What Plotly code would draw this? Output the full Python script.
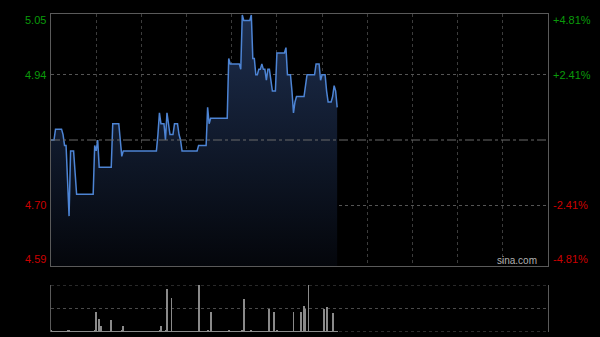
import plotly.graph_objects as go

prev_close = 4.82

minutes = list(range(191))

prices = [
    4.82, 4.82, 4.82, 4.84, 4.84, 4.84, 4.84, 4.84, 4.83, 4.81,
    4.81, 4.75, 4.68, 4.80, 4.80, 4.80, 4.76, 4.72, 4.72, 4.72,
    4.72, 4.72, 4.72, 4.72, 4.72, 4.72, 4.72, 4.72, 4.72, 4.81,
    4.80, 4.82, 4.77, 4.77, 4.77, 4.77, 4.77, 4.77, 4.77, 4.77,
    4.77, 4.85, 4.85, 4.85, 4.85, 4.85, 4.82, 4.79, 4.80, 4.80,
    4.80, 4.80, 4.80, 4.80, 4.80, 4.80, 4.80, 4.80, 4.80, 4.80,
    4.80, 4.80, 4.80, 4.80, 4.80, 4.80, 4.80, 4.80, 4.80, 4.80,
    4.80, 4.83, 4.87, 4.85, 4.85, 4.85, 4.82, 4.87, 4.85, 4.83,
    4.83, 4.83, 4.85, 4.85, 4.85, 4.83, 4.82, 4.80, 4.80, 4.80,
    4.80, 4.80, 4.80, 4.80, 4.80, 4.80, 4.80, 4.80, 4.81, 4.81,
    4.81, 4.81, 4.81, 4.81, 4.88, 4.85, 4.86, 4.86, 4.86, 4.86,
    4.86, 4.86, 4.86, 4.86, 4.86, 4.86, 4.86, 4.86, 4.97, 4.96,
    4.96, 4.96, 4.96, 4.96, 4.96, 4.96, 4.95, 5.05, 5.04, 5.04,
    5.04, 5.04, 5.04, 5.05, 4.97, 4.97, 4.94, 4.94, 4.95, 4.95,
    4.96, 4.95, 4.95, 4.93, 4.95, 4.95, 4.93, 4.91, 4.91, 4.91,
    4.98, 4.98, 4.98, 4.98, 4.98, 4.98, 4.99, 4.94, 4.94, 4.94,
    4.91, 4.87, 4.89, 4.90, 4.90, 4.90, 4.90, 4.90, 4.90, 4.92,
    4.94, 4.94, 4.94, 4.94, 4.94, 4.94, 4.96, 4.96, 4.96, 4.93,
    4.94, 4.94, 4.94, 4.91, 4.89, 4.89, 4.89, 4.90, 4.92, 4.91,
    4.88,
]

volumes = [
    3, 1, 2, 1, 1, 2, 1, 1, 2, 1,
    2, 3, 4, 2, 1, 1, 2, 1, 1, 1,
    1, 1, 2, 1, 1, 1, 1, 1, 2, 3,
    43, 2, 27, 12, 2, 1, 1, 2, 1, 1,
    25, 1, 2, 1, 1, 2, 1, 3, 13, 1,
    1, 1, 1, 2, 1, 1, 1, 1, 1, 1,
    1, 2, 1, 1, 1, 1, 1, 2, 1, 1,
    1, 2, 3, 13, 2, 2, 3, 91, 2, 2,
    73, 2, 1, 2, 1, 2, 1, 1, 1, 1,
    1, 1, 1, 1, 1, 1, 1, 2, 100, 2,
    1, 1, 1, 2, 3, 2, 43, 1, 1, 1,
    1, 1, 1, 1, 1, 1, 1, 2, 4, 2,
    1, 1, 1, 1, 2, 1, 2, 3, 70, 2,
    2, 2, 2, 3, 2, 1, 2, 1, 1, 1,
    2, 1, 1, 2, 2, 49, 1, 2, 43, 1,
    3, 2, 1, 1, 1, 2, 2, 1, 2, 1,
    2, 42, 2, 1, 2, 1, 42, 2, 56, 49,
    2, 100, 2, 1, 2, 1, 2, 1, 1, 2,
    1, 49, 2, 53, 1, 1, 2, 40, 2, 1,
    2,
]

left_tick_vals = [5.05, 4.94, 4.70, 4.59]
left_tick_text = ["5.05", "4.94", "4.70", "4.59"]
right_tick_text = ["+4.81%", "+2.41%", "-2.41%", "-4.81%"]
tick_colors = ["#0a9a0a", "#0a9a0a", "#cc0000", "#cc0000"]
grid_minutes = list(range(0, 331, 30))
vol_grid = [0, 50, 100]

y_lo = prev_close * (1 - 0.0481)
y_hi = prev_close * (1 + 0.0481)

fig = go.Figure()

fig.add_trace(go.Scatter(
    x=minutes, y=prices, mode="lines",
    line=dict(color="#4d84d4", width=1.5),
    fill="tozeroy",
    fillgradient=dict(type="vertical", start=y_lo, stop=y_hi,
                      colorscale=[[0, "#04060b"], [1, "#1d2e4e"]]),
    xaxis="x", yaxis="y", hoverinfo="skip", showlegend=False,
))

fig.add_trace(go.Bar(
    x=minutes, y=volumes, width=0.55,
    marker=dict(color="#8a8a8a", line=dict(width=0)),
    xaxis="x2", yaxis="y2", hoverinfo="skip", showlegend=False,
))

fig.update_layout(
    width=600, height=337,
    margin=dict(l=51, r=52, t=14, b=5),
    paper_bgcolor="#000000", plot_bgcolor="#000000",
    font=dict(family="Liberation Sans, Arial, sans-serif", size=11, color="#cccccc"),
    xaxis=dict(domain=[0, 1], range=[0, 330], tickvals=grid_minutes,
               showticklabels=False, ticks="", showgrid=True, griddash="dot",
               gridcolor="#3c3c3c", gridwidth=1, zeroline=False,
               showline=True, mirror=True, linecolor="#5a5a5a", linewidth=1,
               anchor="y"),
    yaxis=dict(domain=[0.2075, 1], range=[y_lo, y_hi], tickvals=[4.70, 4.94],
               showticklabels=False, ticks="", showgrid=True, griddash="dot",
               gridcolor="#555555", zeroline=False,
               showline=True, mirror=True, linecolor="#5a5a5a", linewidth=1,
               anchor="x"),
    xaxis2=dict(domain=[0, 1], range=[0, 330], showticklabels=False, ticks="",
                showgrid=False, zeroline=False, showline=False, anchor="y2"),
    yaxis2=dict(domain=[0, 0.1478], range=[0, 100], tickvals=[50],
                showticklabels=False, ticks="", showgrid=True, griddash="dot",
                gridcolor="#4a4a4a", zeroline=False,
                showline=True, mirror=True, linecolor="#5a5a5a", linewidth=1,
                anchor="x2"),
    bargap=0,
)

fig.add_shape(type="line", xref="x", yref="y", x0=0, x1=330,
              y0=prev_close, y1=prev_close,
              line=dict(color="#6a6a6a", width=1, dash="dashdot"))

for gv in [vol_grid[0], vol_grid[-1]]:
    fig.add_shape(type="line", xref="x2", yref="y2", x0=0, x1=330,
                  y0=gv, y1=gv, layer="below",
                  line=dict(color="#555555", width=1, dash="dot"))

shifts = [-5, 0, 0, 6]
for v, lt, rt, c, s in zip(left_tick_vals, left_tick_text, right_tick_text, tick_colors, shifts):
    fig.add_annotation(x=0, xref="paper", y=v, yref="y", text=lt, showarrow=False,
                       xanchor="right", yanchor="middle", xshift=-3, yshift=s,
                       font=dict(color=c, size=11))
    fig.add_annotation(x=1, xref="paper", y=v, yref="y", text=rt, showarrow=False,
                       xanchor="left", yanchor="middle", xshift=3, yshift=s,
                       font=dict(color=c, size=11))

fig.add_annotation(x=1, xref="paper", y=y_lo, yref="y", text="sina.com",
                   showarrow=False, xanchor="right", yanchor="bottom",
                   xshift=-9, yshift=-2, font=dict(color="#b0b0b0", size=10))

fig.write_html("out.html")
